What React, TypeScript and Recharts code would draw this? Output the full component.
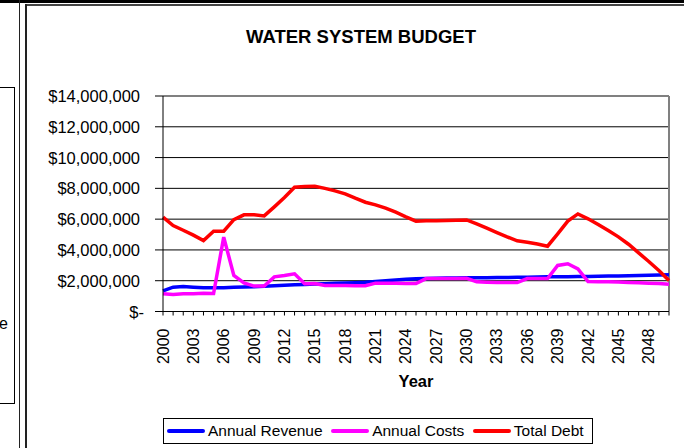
import {
  CartesianGrid,
  Label,
  Legend,
  Line,
  LineChart,
  ReferenceLine,
  XAxis,
  YAxis,
} from "recharts";

const FONT = '"Liberation Sans", Arial, Helvetica, sans-serif';

// 年 (2000〜2050)
const years = [
  2000, 2001, 2002, 2003, 2004, 2005, 2006, 2007, 2008, 2009,
  2010, 2011, 2012, 2013, 2014, 2015, 2016, 2017, 2018, 2019,
  2020, 2021, 2022, 2023, 2024, 2025, 2026, 2027, 2028, 2029,
  2030, 2031, 2032, 2033, 2034, 2035, 2036, 2037, 2038, 2039,
  2040, 2041, 2042, 2043, 2044, 2045, 2046, 2047, 2048, 2049,
  2050,
];

const seriesNames = ["Annual Revenue", "Annual Costs", "Total Debt"];

const annualRevenue = [
  1340000, 1580000, 1620000, 1580000, 1540000, 1540000, 1550000, 1570000, 1590000, 1610000,
  1640000, 1670000, 1700000, 1730000, 1760000, 1790000, 1810000, 1830000, 1850000, 1870000,
  1900000, 1950000, 2000000, 2050000, 2090000, 2120000, 2150000, 2160000, 2170000, 2180000,
  2190000, 2190000, 2200000, 2210000, 2210000, 2220000, 2230000, 2240000, 2250000, 2250000,
  2260000, 2270000, 2280000, 2290000, 2300000, 2310000, 2320000, 2340000, 2350000, 2370000,
  2380000,
];

const annualCosts = [
  1150000, 1100000, 1150000, 1150000, 1190000, 1170000, 4830000, 2340000, 1860000, 1650000,
  1650000, 2250000, 2340000, 2450000, 1800000, 1820000, 1690000, 1690000, 1690000, 1670000,
  1670000, 1840000, 1840000, 1840000, 1820000, 1820000, 2140000, 2140000, 2140000, 2140000,
  2160000, 1930000, 1900000, 1880000, 1880000, 1880000, 2140000, 2140000, 2140000, 2990000,
  3100000, 2770000, 1950000, 1930000, 1930000, 1910000, 1880000, 1860000, 1840000, 1820000,
  1770000,
];

const totalDebt = [
  6130000, 5580000, 5280000, 4960000, 4610000, 5220000, 5220000, 5970000, 6280000, 6280000,
  6210000, 6800000, 7400000, 8070000, 8120000, 8140000, 8000000, 7840000, 7640000, 7360000,
  7100000, 6930000, 6710000, 6450000, 6150000, 5870000, 5890000, 5890000, 5910000, 5930000,
  5950000, 5690000, 5410000, 5130000, 4850000, 4590000, 4500000, 4390000, 4240000, 5040000,
  5870000, 6340000, 6020000, 5650000, 5260000, 4850000, 4370000, 3810000, 3250000, 2660000,
  2010000,
];

const yTicks = [0, 2000000, 4000000, 6000000, 8000000, 10000000, 12000000, 14000000];

const data = years.map((year, i) => ({
  year,
  revenue: annualRevenue[i],
  costs: annualCosts[i],
  debt: totalDebt[i],
}));

// Excel の会計表示風 ($- / $2,000,000)
function dollars(v: number): string {
  return v === 0 ? "$-" : `$${v.toLocaleString("en-US")}`;
}

function YTick({ x, y, payload }: any) {
  return (
    <text
      x={payload.value === 0 ? x + 4 : x}
      y={y}
      textAnchor="end"
      dominantBaseline="central"
      fontSize={16.5}
      fill="#000"
    >
      {dollars(payload.value)}
    </text>
  );
}

// 目盛り線は毎年、ラベルは3年おき
function XTick({ x, y, payload }: any) {
  if ((payload.value - years[0]) % 3 !== 0) return <g />;
  return (
    <text
      transform={`translate(${x},${y}) rotate(-90)`}
      textAnchor="end"
      dominantBaseline="central"
      fontSize={16}
      fill="#000"
    >
      {payload.value}
    </text>
  );
}

function LegendBox({ payload }: any) {
  // 系列の順番どおりに並べる
  const items = [...(payload ?? [])].sort(
    (a: any, b: any) => seriesNames.indexOf(a.value) - seriesNames.indexOf(b.value)
  );
  return (
    <div
      style={{
        height: 26,
        boxSizing: "border-box",
        border: "1px solid #000",
        display: "flex",
        alignItems: "center",
        paddingLeft: 3,
        fontFamily: FONT,
        fontSize: 15.5,
        color: "#000",
        background: "#fff",
      }}
    >
      {items.map((p: any, i: number) => (
        <div
          key={p.value}
          style={{ display: "flex", alignItems: "center", marginLeft: i ? 8.5 : 0 }}
        >
          <span
            style={{
              display: "inline-block",
              width: 38,
              height: 4,
              borderRadius: 2,
              background: p.color,
              marginRight: 3,
            }}
          />
          <span>{p.value}</span>
        </div>
      ))}
    </div>
  );
}

export default function App() {
  return (
    <div
      style={{
        position: "absolute",
        left: 0,
        top: 0,
        width: 684,
        height: 448,
        overflow: "hidden",
        background: "#fff",
        fontFamily: FONT,
      }}
    >
      {/* 周りの枠線 (シートの一部) */}
      <div style={{ position: "absolute", left: 0, top: 0, width: 684, height: 2.5, background: "#000" }} />
      <div style={{ position: "absolute", left: 25, top: 4, width: 659, height: 1.5, background: "#444" }} />
      <div style={{ position: "absolute", left: 18.5, top: 0, width: 1.5, height: 448, background: "#222" }} />
      <div style={{ position: "absolute", left: 25, top: 4, width: 1.5, height: 444, background: "#222" }} />
      <div
        style={{
          position: "absolute",
          left: -2,
          top: 87,
          width: 14.5,
          height: 315,
          border: "1px solid #000",
        }}
      />
      <div
        style={{
          position: "absolute",
          left: -2,
          top: 314.5,
          width: 10,
          textAlign: "right",
          fontSize: 16,
          lineHeight: "18px",
        }}
      >
        e
      </div>

      <div
        style={{
          position: "absolute",
          left: 211,
          top: 27,
          width: 300,
          textAlign: "center",
          fontSize: 18.5,
          fontWeight: "bold",
          lineHeight: "20px",
        }}
      >
        WATER SYSTEM BUDGET
      </div>

      <LineChart
        width={684}
        height={448}
        data={data}
        margin={{ top: 96, right: 15, bottom: 4, left: 33 }}
        style={{ fontFamily: FONT }}
      >
        <CartesianGrid vertical={false} stroke="#000" strokeWidth={1} />
        <XAxis
          dataKey="year"
          type="category"
          interval={0}
          height={106.5}
          tickSize={4}
          tickMargin={13}
          tick={<XTick />}
          axisLine={{ stroke: "#000" }}
          tickLine={{ stroke: "#000" }}
        >
          <Label
            value="Year"
            position="insideBottom"
            offset={31}
            fontSize={16.5}
            fontWeight="bold"
            fill="#000"
          />
        </XAxis>
        <YAxis
          width={130}
          domain={[0, 14000000]}
          ticks={yTicks}
          interval={0}
          tickSize={8}
          tickMargin={15}
          tick={<YTick />}
          axisLine={{ stroke: "#000" }}
          tickLine={{ stroke: "#000" }}
        />
        <ReferenceLine y={14000000} stroke="#808080" strokeWidth={2} />
        <ReferenceLine x={2050} stroke="#808080" strokeWidth={2} />
        <Line
          dataKey="revenue"
          name={seriesNames[0]}
          stroke="#0000ff"
          strokeWidth={3.5}
          dot={false}
          isAnimationActive={false}
        />
        <Line
          dataKey="costs"
          name={seriesNames[1]}
          stroke="#ff00ff"
          strokeWidth={3.5}
          dot={false}
          isAnimationActive={false}
        />
        <Line
          dataKey="debt"
          name={seriesNames[2]}
          stroke="#ff0000"
          strokeWidth={3.5}
          dot={false}
          isAnimationActive={false}
        />
        <Legend
          verticalAlign="bottom"
          content={<LegendBox />}
          wrapperStyle={{ left: 163, bottom: 4, width: 430, height: 26 }}
        />
      </LineChart>
    </div>
  );
}
